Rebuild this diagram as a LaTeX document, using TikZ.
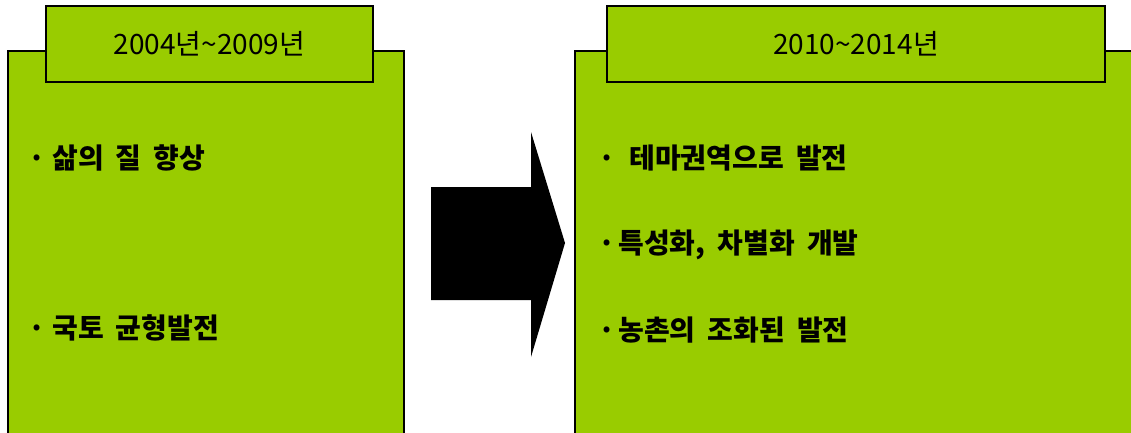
\documentclass[tikz,border=0pt]{standalone}
\usepackage{fontspec}
\setmainfont[WordSpace=1.9]{Noto Sans CJK KR}
\usetikzlibrary{calc}
\definecolor{leafgreen}{HTML}{99CC00}
\tikzset{
	panel/.style={draw=black, fill=leafgreen, line width=2pt},
	yearbox/.style={panel, minimum height=76pt, inner sep=0pt, font=\fontsize{28}{32}\selectfont},
	itemtext/.style={anchor=west, inner sep=0pt, font=\fontsize{28}{32}\selectfont\bfseries}
}

\begin{document}
\begin{tikzpicture}[x=1pt, y=-1pt]
	%%%%% START %%%%%
	
	\useasboundingbox (0,0) rectangle (1131,432);
	\clip (0,0) rectangle (1131,432);
	
	\draw[panel] (8,51) rectangle (404,450);
	\draw[panel] (575,51) rectangle (1150,450);
	
	\node[yearbox, minimum width=327pt] (leftyear) at (209.5,44) {2004년\textasciitilde2009년};
	\node[yearbox, minimum width=498pt] (rightyear) at (856,44) {2010\textasciitilde2014년};
	
	\node[itemtext] (life) at (28,158) {·\hspace{7pt}삶의 질 향상};
	\node[itemtext] (balance) at (28,328) {·\hspace{7pt}국토 균형발전};
	
	\node[itemtext] (theme) at (598,158) {·\hspace{14pt}테마권역으로 발전};
	\node[itemtext] (special) at (598,245) {·\hspace{3pt}특성화, 차별화 개발};
	\node[itemtext] (rural) at (598,330) {·\hspace{3pt}농촌의 조화된 발전};
	
	\fill[black] (431,187) -- (531,187) -- (531,132) -- (565,243) -- (531,357) -- (531,300) -- (431,300) -- cycle;
	
	%%%%% END %%%%%
\end{tikzpicture}
\end{document}
